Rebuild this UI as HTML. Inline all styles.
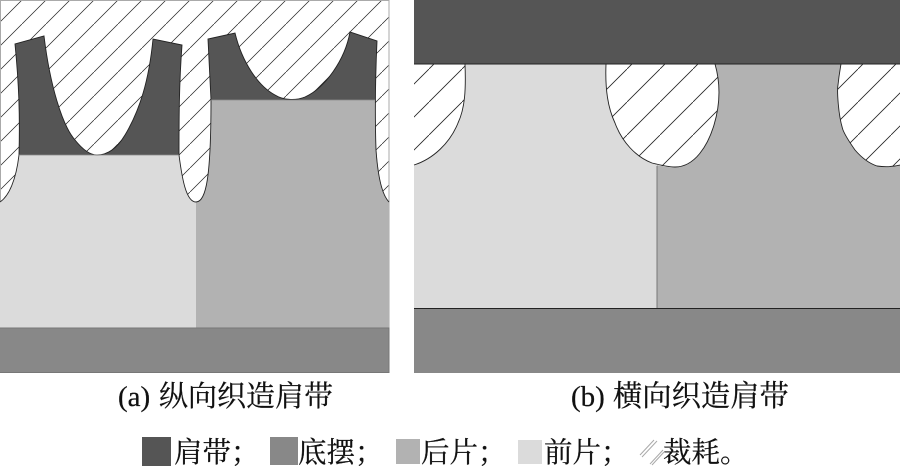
<!DOCTYPE html>
<html><head><meta charset="utf-8"><style>
html,body{margin:0;padding:0;background:#fff;width:900px;height:467px;overflow:hidden}
svg{display:block}
text{font-family:"Liberation Serif","Noto Serif CJK SC",serif;fill:#111;stroke:#111;stroke-width:.25}
</style></head><body>
<svg width="900" height="467" viewBox="0 0 900 467" xmlns="http://www.w3.org/2000/svg">
<defs>
<pattern id="ha" width="24" height="24" patternUnits="userSpaceOnUse" patternTransform="translate(-2 0)">
<path d="M-2 26L26 -2" stroke="#222" stroke-width="0.7"/>
</pattern>
<pattern id="hb" width="33" height="33" patternUnits="userSpaceOnUse" patternTransform="translate(0 3)">
<path d="M-2 35L35 -2" stroke="#222" stroke-width="0.8"/>
</pattern>
</defs>

<!-- panel a -->
<rect x="0.5" y="0.5" width="388.5" height="372" fill="#fff"/>
<rect x="0.5" y="0.5" width="388.5" height="372" fill="url(#ha)" stroke="#aaa"/>
<path d="M0 202C9 196 16 180 19 155L179 155C182 178 186 202 196 202L196 328L0 328Z" fill="#dbdbdb"/>
<path d="M196 202C206 202 211 178 211 100L375 100C375 150 378 190 389 202L389 328L196 328Z" fill="#b2b2b2"/>
<path d="M19 155C20 115 19 85 15 44L44 36C50 85 62 125 75 140C83 150 90 155 97 155C106 155 116 150 125 135C140 110 149 80 153 39L182 45C179 85 179 120 179 155Z" fill="#555"/>
<path d="M211 100L208 39L235 33C242 62 258 86 275 95C283 100 295 101 305 97C325 88 345 60 350 32L377 41L375 100Z" fill="#555"/>
<path d="M0 202C9 196 16 180 19 155C20 115 19 85 15 44L44 36C50 85 62 125 75 140C83 150 90 155 97 155C106 155 116 150 125 135C140 110 149 80 153 39L182 45C179 85 179 120 179 155C182 178 186 202 196 202C206 202 211 178 211 100L208 39L235 33C242 62 258 86 275 95C283 100 295 101 305 97C325 88 345 60 350 32L377 41C375 85 375 120 376 150C378 178 382 195 389 202" fill="none" stroke="#222" stroke-width="0.9"/>
<path d="M19 155H179M211 100H375" stroke="#8a8a8a" stroke-width="0.8" fill="none"/>
<rect x="0" y="328" width="389" height="45" fill="#888"/>
<path d="M0 328H389V372.500H0" fill="none" stroke="#777" stroke-width="1"/>

<!-- panel b -->
<rect x="414" y="64" width="486" height="245" fill="#fff"/>
<rect x="414" y="64" width="486" height="110" fill="url(#hb)"/>
<path d="M465 64C466 90 465 108 458 123C450 143 433 159 414 165L414 308L657 308L657 165C655 164 654 164 652 163C636 157 622 142 615 123C608 108 605 90 606 64Z" fill="#dbdbdb"/>
<path d="M715 64C721 85 720 105 714 125C708 145 695 167 675 167C668 167 662 166 657 165L657 308L900 308L900 165C892 167 884 167 877 166C868 163 861 157 855 150C848 140 845 135 843 130C838 115 837 90 838 85C839 75 840 70 841 64Z" fill="#b2b2b2"/>
<path d="M465 64C466 90 465 108 458 123C450 143 433 159 414 165M606 64C605 90 608 108 615 123C622 142 636 157 652 163C660 165 668 167 675 167C695 167 708 145 714 125C720 105 721 85 715 64M841 64C840 70 839 75 838 85C837 90 838 115 843 130C845 135 848 140 855 150C861 157 868 163 877 166C884 167 892 167 900 165" fill="none" stroke="#222" stroke-width="0.9"/>
<path d="M657 166V308" stroke="#777" stroke-width="1"/>
<rect x="414" y="0" width="486" height="64" fill="#555"/>
<path d="M414 64H900" stroke="#222" stroke-width="1"/>
<rect x="414" y="308" width="486" height="65" fill="#888"/>
<path d="M414 308.500H900" stroke="#222" stroke-width="1"/>

<!-- captions -->
<text x="118" y="406" font-size="29">(a)</text>
<text x="159" y="406" font-size="29">纵向织造肩带</text>
<text x="571" y="406" font-size="29">(b)</text>
<text x="613" y="406" font-size="29.300">横向织造肩带</text>

<!-- legend -->
<rect x="142" y="437" width="29" height="29" fill="#555"/>
<text x="174" y="462" font-size="28.500">肩带；</text>
<rect x="270" y="437" width="28" height="28" fill="#888"/>
<text x="298" y="462" font-size="28.500">底摆；</text>
<rect x="396" y="439" width="24" height="25" fill="#b2b2b2"/>
<text x="421" y="462" font-size="28.500">后片；</text>
<rect x="518" y="440" width="24" height="24" fill="#dbdbdb"/>
<text x="544" y="462" font-size="28.500">前片；</text>
<path d="M640 455L654 440M642 457L657 441M650 464L663 450M652 465L664 452" stroke="#aaa" stroke-width="1" fill="none"/>
<text x="663" y="462" font-size="28.500">裁耗。</text>
</svg>
</body></html>
